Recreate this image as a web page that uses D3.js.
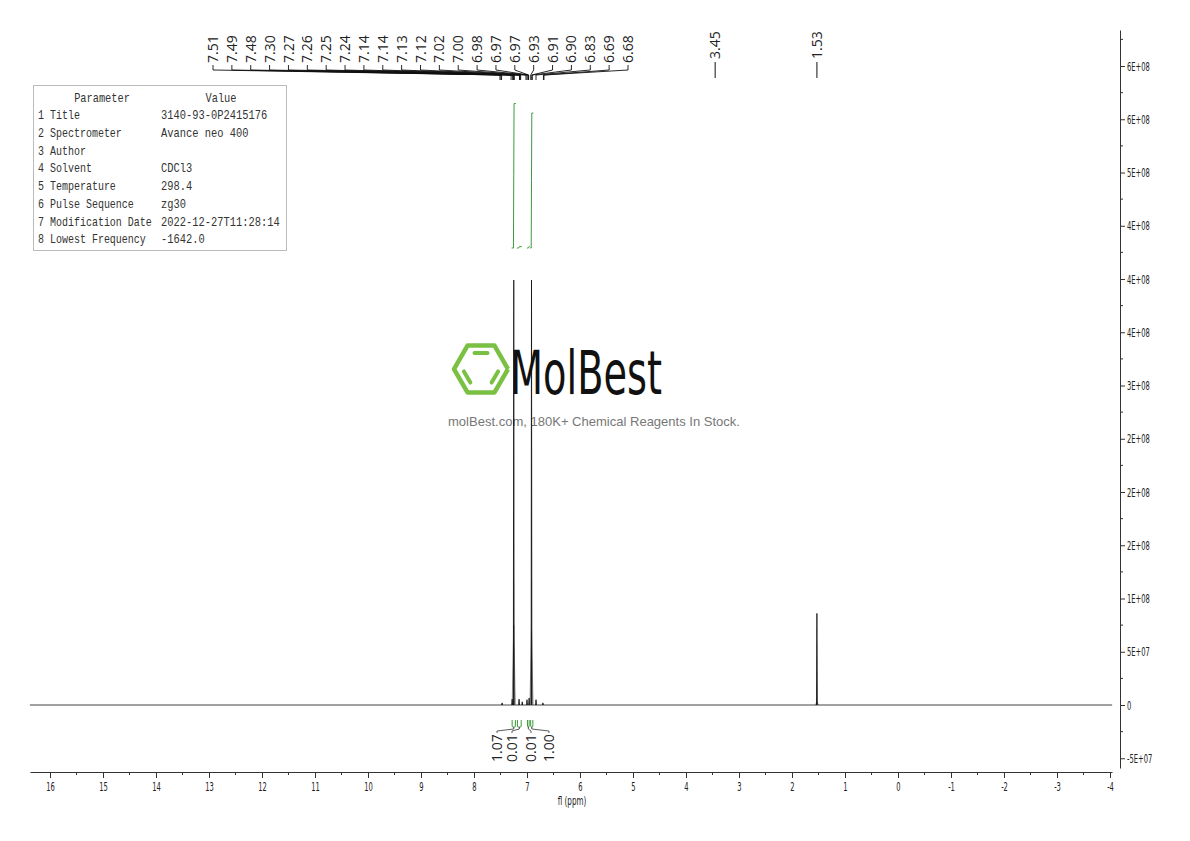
<!DOCTYPE html>
<html><head><meta charset="utf-8">
<script src="https://cdn.jsdelivr.net/npm/d3@7"></script>
<style>body{margin:0;background:#fff}svg{display:block}</style>
</head><body>
<svg id="c" width="1190" height="841"></svg>
<script>
// ---------------- data ----------------
const peakPpm    = [7.47, 7.28, 7.25, 7.15, 7.09, 7.00, 6.96, 6.915, 6.83, 6.70, 1.53];
const peakHeight = [2e6, 5.5e6, 3.99e8, 5.5e6, 3e6, 5e6, 6.5e6, 3.99e8, 5e6, 2e6, 8.6e7];
const skirtPpm    = [7.25, 6.915, 1.53];
const skirtHeight = [7.5e7, 7e7, 3e6];
const baselineRange = [16.38, -4.04];

const fanLabels = ["7.51","7.49","7.48","7.30","7.27","7.26","7.25","7.24","7.14","7.14","7.13","7.12",
                   "7.02","7.00","6.98","6.97","6.97","6.93","6.91","6.90","6.83","6.69","6.68"];
const soloLabels = ["3.45","1.53"];

const integralFrom  = [7.29, 7.19, 7.00, 6.94];
const integralTo    = [7.21, 7.10, 6.95, 6.88];
const integralPeak  = [7.25, 7.15, 6.97, 6.915];
const integralValue = [1.07, 0.01, 0.01, 1.00];
const integralText  = ["1.07","0.01","0.01","1.00"];

const xTicks = [16,15,14,13,12,11,10,9,8,7,6,5,4,3,2,1,0,-1,-2,-3,-4];
const yTicks = [-5e7,0,5e7,1e8,1.5e8,2e8,2.5e8,3e8,3.5e8,4e8,4.5e8,5e8,5.5e8,6e8];
const yTickLabels = ["-5E+07","0","5E+07","1E+08","2E+08","2E+08","2E+08","3E+08","4E+08","4E+08","4E+08","5E+08","6E+08","6E+08"];

const paramNames  = ["1 Title","2 Spectrometer","3 Author","4 Solvent","5 Temperature","6 Pulse Sequence","7 Modification Date","8 Lowest Frequency"];
const paramValues = ["3140-93-0P2415176","Avance neo 400","","CDCl3","298.4","zg30","2022-12-27T11:28:14","-1642.0"];

// ---------------- scales ----------------
const svg = d3.select("#c");
const x = d3.scaleLinear().domain([16,-4]).range([50,1110]);
const y = d3.scaleLinear().domain([0,6e8]).range([705,66]);
const yInt = d3.scaleLinear().domain([0,1]).range([248,113]);

const condensed = "'DejaVu Sans', sans-serif";

// ---------------- watermark logo ----------------
const logo = svg.append("g");
const cx = 481, cy = 369, R = 27;
const hex = d3.range(6).map(i => [cx + R*Math.cos(Math.PI/3*i), cy + R*Math.sin(Math.PI/3*i)]);
logo.append("path").attr("d", d3.line()(hex.concat([hex[0]])))
  .attr("fill","none").attr("stroke","#7ac143").attr("stroke-width",4.5).attr("stroke-linejoin","round");
const r2 = 18.5;
const inner = d3.range(6).map(i => [cx + r2*Math.cos(Math.PI/3*i), cy + r2*Math.sin(Math.PI/3*i)]);
const shrink = (a,b,f)=>[[a[0]+(b[0]-a[0])*f, a[1]+(b[1]-a[1])*f],[b[0]+(a[0]-b[0])*f, b[1]+(a[1]-b[1])*f]];
[[4,5],[0,1],[2,3]].forEach(([i,j])=>{
  const s = shrink(inner[i],inner[j],0.15);
  logo.append("line").attr("x1",s[0][0]).attr("y1",s[0][1]).attr("x2",s[1][0]).attr("y2",s[1][1])
    .attr("stroke","#7ac143").attr("stroke-width",4).attr("stroke-linecap","round");
});
logo.append("text").attr("x",510).attr("y",394).text("MolBest")
  .attr("font-family","'DejaVu Sans', sans-serif").attr("font-size",60).attr("fill","#111")
  .attr("textLength",152).attr("lengthAdjust","spacingAndGlyphs");
logo.append("text").attr("x",448).attr("y",426).text("molBest.com, 180K+ Chemical Reagents In Stock.")
  .attr("font-family","'Liberation Sans', Arial, sans-serif").attr("font-size",13).attr("fill","#777")
  .attr("textLength",292).attr("lengthAdjust","spacingAndGlyphs");

// ---------------- parameter table ----------------
const tbl = svg.append("g");
tbl.append("rect").attr("x",33.5).attr("y",85.5).attr("width",253).attr("height",165)
  .attr("fill","#fff").attr("stroke","#bbb").attr("stroke-width",1);
const fsT = 12.5, natAdv = fsT*0.6;
function monoText(g, txt, xx, yy, adv, anchor){
  if(!txt) return;
  g.append("text").attr("transform",`translate(${xx},${yy}) scale(${adv/natAdv},1)`).text(txt)
    .attr("font-family","'Liberation Mono', 'Courier New', monospace").attr("font-size",fsT)
    .attr("fill","#333").attr("text-anchor",anchor||"start");
}
monoText(tbl,"Parameter",102,101.5,6.2,"middle");
monoText(tbl,"Value",221,101.5,6.2,"middle");
paramNames.forEach((n,i)=>{
  const yy = 119 + i*17.75;
  monoText(tbl,n,38,yy,6.0);
  monoText(tbl,paramValues[i],161,yy,6.25);
});

// ---------------- spectrum ----------------
const spec = svg.append("g");
spec.append("line").attr("x1",x(baselineRange[0])).attr("x2",x(baselineRange[1]))
  .attr("y1",y(0)).attr("y2",y(0)).attr("stroke","#444").attr("stroke-width",1);
const pk = (p,h,w)=>`M${x(p)+w},${y(0)}L${x(p)},${y(h)}L${x(p)-w},${y(0)}`;
skirtPpm.forEach((p,i)=>{
  spec.append("path").attr("d",pk(p,skirtHeight[i],1.6)).attr("fill","#888").attr("fill-opacity",0.5)
    .attr("stroke","#666").attr("stroke-width",0.6);
});
peakPpm.forEach((p,i)=>{
  spec.append("path").attr("d",pk(p,peakHeight[i],0.4)).attr("fill","#111")
    .attr("stroke","#111").attr("stroke-width",0.8);
});

// ---------------- integrals ----------------
const green = "#3d9a3d";
const ig = svg.append("g");
integralFrom.forEach((f,i)=>{
  const x1 = x(f), x2 = x(integralTo[i]), xp = x(integralPeak[i]);
  const top = yInt(integralValue[i]);
  ig.append("path").attr("d",`M${x1},${yInt(0)}L${xp-0.3},${yInt(0)}L${xp},${(yInt(0)+top)/2}L${xp+0.3},${top}L${x2},${top}`)
    .attr("fill","none").attr("stroke",green).attr("stroke-width",1);
});
const intLabelX = [497, 512, 531, 549];
integralFrom.forEach((f,i)=>{
  const x1 = x(f)+0.5, x2 = x(integralTo[i])-0.5, mid=(x1+x2)/2;
  ig.append("path").attr("d",`M${x1},720L${x1},726Q${x1},727 ${x1+1},727L${x2-1},727Q${x2},727 ${x2},726L${x2},720`)
    .attr("fill","none").attr("stroke",green).attr("stroke-width",1);
  const lx = intLabelX[i];
  svg.append("path").attr("d",`M${mid},727L${mid},729L${lx},731L${lx},733`)
    .attr("fill","none").attr("stroke","#333").attr("stroke-width",0.8);
  svg.append("text").attr("transform",`translate(${lx},762) rotate(-90)`).attr("dy","0.36em")
    .text(integralText[i]).attr("font-family","'Open Sans', sans-serif").attr("font-size",14).attr("fill","#222");
});

// ---------------- peak labels (fan) ----------------
const pl = svg.append("g");
const fanX0 = 213, fanX1 = 628;
fanLabels.forEach((lab,i)=>{
  const lx = fanX0 + (fanX1-fanX0)*i/(fanLabels.length-1);
  const px = x(+lab);
  pl.append("text").attr("transform",`translate(${lx},63) rotate(-90)`).attr("dy","0.36em")
    .text(lab).attr("font-family","'Open Sans', sans-serif").attr("font-size",14).attr("fill","#222");
  pl.append("path").attr("d",`M${lx},65L${lx},70L${px},75L${px},80`)
    .attr("fill","none").attr("stroke","#111").attr("stroke-width",0.9);
});
soloLabels.forEach(lab=>{
  const px = x(+lab);
  pl.append("text").attr("transform",`translate(${px},59) rotate(-90)`).attr("dy","0.36em")
    .text(lab).attr("font-family","'Open Sans', sans-serif").attr("font-size",14).attr("fill","#222");
  pl.append("line").attr("x1",px).attr("x2",px).attr("y1",62).attr("y2",78)
    .attr("stroke","#111").attr("stroke-width",1);
});

// ---------------- axes ----------------
const sx = 0.52;
const xAxisScale = x.copy().domain([x.invert(30), x.invert(1112)]).range([30,1112]);
const xAxis = svg.append("g").attr("transform","translate(0,772)")
  .call(d3.axisBottom(xAxisScale).tickValues(xTicks).tickFormat(d=>String(d)).tickSize(6).tickSizeOuter(0));
xAxis.select(".domain").attr("stroke","#333");
xAxis.selectAll(".tick line").attr("stroke","#333");
xAxis.selectAll(".tick text").attr("font-family",condensed).attr("font-size",13).attr("fill","#222")
  .attr("y",10).attr("transform",`scale(${sx},1)`);
const xMinor = d3.pairs(xTicks).map(([a,b])=>(a+b)/2);
xAxis.selectAll(".minor").data(xMinor).enter().append("line").attr("class","minor")
  .attr("x1",d=>xAxisScale(d)).attr("x2",d=>xAxisScale(d)).attr("y1",0).attr("y2",3).attr("stroke","#333");
svg.append("text").attr("transform","translate(572,805) scale(0.6,1)").attr("text-anchor","middle")
  .text("fl (ppm)").attr("font-family",condensed).attr("font-size",12).attr("fill","#222");

const yAxisScale = y.copy().domain([y.invert(768), y.invert(30)]).range([768,30]);
const yAxis = svg.append("g").attr("transform","translate(1120,0)")
  .call(d3.axisRight(yAxisScale).tickValues(yTicks).tickFormat((d,i)=>yTickLabels[i]).tickSize(5).tickSizeOuter(0));
yAxis.select(".domain").attr("stroke","#333");
yAxis.selectAll(".tick line").attr("stroke","#333");
yAxis.selectAll(".tick text").attr("font-family",condensed).attr("font-size",13).attr("fill","#222")
  .attr("x",7/sx).attr("transform",`scale(${sx},1)`);
const yMinor = d3.pairs(yTicks).map(([a,b])=>(a+b)/2).concat([yTicks[yTicks.length-1]+2.5e7]);
yAxis.selectAll(".minor").data(yMinor).enter().append("line").attr("class","minor")
  .attr("y1",d=>yAxisScale(d)).attr("y2",d=>yAxisScale(d)).attr("x1",0).attr("x2",3).attr("stroke","#333");
</script>
</body></html>
